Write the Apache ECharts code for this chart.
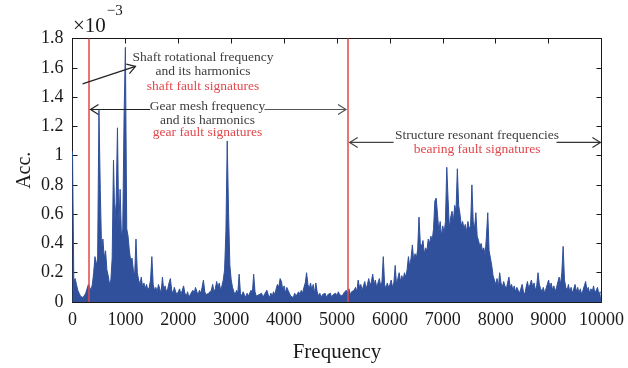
<!DOCTYPE html>
<html>
<head>
<meta charset="utf-8">
<script src="https://cdn.jsdelivr.net/npm/echarts@6/dist/echarts.min.js"></script>
<style>
  html, body { margin: 0; padding: 0; background: #fff; }
  #chart { width: 628px; height: 368px; }
</style>
</head>
<body>
<div id="chart"></div>
<script>
// Acceleration spectrum (x 1e-3), sampled every 25 Hz from 0 to 10000 Hz
const freqStep = 25;
const acc0to1k = [1.03,0.14,0.16,0.12,0.08,0.06,0.04,0.05,0.03,0.04,0.06,0.09,0.12,0.10,0.08,0.12,0.20,0.31,0.25,0.30,
  1.31,0.77,0.35,0.43,0.30,0.35,0.22,0.18,0.12,0.15,0.30,0.97,0.55,0.68,1.19,0.50,0.77,0.45,0.50,1.27];
const acc1kto2k = [1.74,0.50,0.45,0.35,0.28,0.30,0.22,0.18,0.43,0.20,0.15,0.12,0.17,0.10,0.13,0.09,0.12,0.08,0.10,0.15,
  0.31,0.12,0.08,0.10,0.07,0.12,0.09,0.06,0.17,0.08,0.11,0.07,0.09,0.13,0.16,0.08,0.06,0.10,0.07,0.05];
const acc2kto3k = [0.06,0.09,0.05,0.08,0.11,0.06,0.04,0.07,0.03,0.05,0.04,0.08,0.06,0.10,0.07,0.05,0.08,0.06,0.10,0.15,
  0.07,0.05,0.04,0.06,0.05,0.08,0.12,0.07,0.09,0.14,0.10,0.13,0.08,0.11,0.15,0.22,0.48,1.10,0.61,0.25];
const acc3kto4k = [0.15,0.10,0.07,0.05,0.08,0.06,0.19,0.06,0.04,0.07,0.05,0.03,0.06,0.04,0.05,0.08,0.06,0.19,0.07,0.04,
  0.03,0.05,0.04,0.06,0.03,0.05,0.04,0.08,0.05,0.03,0.06,0.04,0.07,0.05,0.09,0.12,0.10,0.16,0.14,0.08];
const acc4kto5k = [0.11,0.06,0.10,0.08,0.06,0.04,0.05,0.03,0.06,0.04,0.05,0.07,0.05,0.08,0.06,0.10,0.13,0.20,0.12,0.09,
  0.13,0.08,0.12,0.06,0.13,0.07,0.04,0.06,0.03,0.05,0.04,0.06,0.03,0.05,0.04,0.06,0.03,0.05,0.04,0.06];
const acc5kto6k = [0.04,0.07,0.05,0.06,0.04,0.06,0.05,0.08,0.06,0.09,0.05,0.07,0.06,0.08,0.10,0.07,0.15,0.10,0.12,0.08,
  0.11,0.14,0.09,0.12,0.16,0.11,0.14,0.19,0.12,0.15,0.10,0.13,0.16,0.11,0.14,0.31,0.12,0.09,0.13,0.10];
const acc6kto7k = [0.12,0.15,0.10,0.13,0.25,0.12,0.16,0.20,0.14,0.18,0.15,0.20,0.17,0.22,0.31,0.24,0.30,0.39,0.28,0.33,
  0.30,0.36,0.58,0.40,0.38,0.42,0.33,0.37,0.35,0.43,0.40,0.45,0.42,0.50,0.69,0.71,0.60,0.48,0.55,0.45];
const acc7kto8k = [0.52,0.47,0.55,0.92,0.70,0.50,0.58,0.62,0.55,0.66,0.62,0.91,0.66,0.60,0.52,0.55,0.50,0.53,0.48,0.55,
  0.50,0.52,0.80,0.55,0.50,0.61,0.45,0.42,0.38,0.40,0.35,0.37,0.32,0.45,0.61,0.35,0.30,0.25,0.18,0.15];
const acc8kto9k = [0.12,0.16,0.10,0.20,0.13,0.10,0.14,0.11,0.09,0.13,0.17,0.10,0.12,0.08,0.11,0.07,0.10,0.08,0.06,0.09,
  0.12,0.07,0.05,0.10,0.14,0.09,0.12,0.15,0.10,0.13,0.08,0.11,0.20,0.12,0.09,0.07,0.10,0.06,0.09,0.12];
const acc9kto10k = [0.15,0.10,0.13,0.08,0.11,0.07,0.10,0.09,0.17,0.12,0.20,0.38,0.15,0.10,0.08,0.12,0.07,0.10,0.06,0.09,
  0.12,0.07,0.10,0.06,0.09,0.05,0.08,0.11,0.14,0.08,0.10,0.06,0.09,0.07,0.11,0.06,0.08,0.10,0.05,0.07,0.06];

// Band boundaries (Hz)
const bandEdges = [300, 5200];

// Axis ticks
const xTicks = { min: 0, max: 10000, step: 1000 };
const yTicks = { min: 0, max: 1.8, step: 0.2 };

const accValues = [].concat(acc0to1k, acc1kto2k, acc2kto3k, acc3kto4k, acc4kto5k,
  acc5kto6k, acc6kto7k, acc7kto8k, acc8kto9k, acc9kto10k);
const spectrum = accValues.map((v, i) => [i * freqStep, v]);

const BLUE = '#30509b';
const RED = '#e2474c';
const TEXT = '#3d3d3d';
const SERIF = '"Liberation Serif", "DejaVu Serif", serif';

const chart = echarts.init(document.getElementById('chart'), null, { renderer: 'canvas' });

const axisLine = { show: true, onZero: false, lineStyle: { color: '#1a1a1a', width: 1 } };
const tickIn = { show: true, inside: true, length: 5, lineStyle: { color: '#1a1a1a' } };

const option = {
  animation: false,
  backgroundColor: '#fff',
  grid: { left: 72.5, right: 26.5, top: 38.5, bottom: 63.5 },
  xAxis: [{
    type: 'value', min: xTicks.min, max: xTicks.max, interval: xTicks.step,
    position: 'bottom', axisLine, axisTick: tickIn, splitLine: { show: false },
    axisLabel: { fontFamily: SERIF, fontSize: 18, color: '#1a1a1a', margin: 9, formatter: v => String(v) },
    name: 'Frequency', nameLocation: 'middle', nameGap: 40, nameMoveOverlap: false,
    nameTextStyle: { fontFamily: SERIF, fontSize: 21, color: '#1a1a1a' }
  }, {
    type: 'value', min: xTicks.min, max: xTicks.max, interval: xTicks.step,
    position: 'top', axisLine, axisTick: tickIn, axisLabel: { show: false }, splitLine: { show: false }
  }],
  yAxis: [{
    type: 'value', min: yTicks.min, max: yTicks.max, interval: yTicks.step,
    position: 'left', axisLine, axisTick: tickIn, splitLine: { show: false },
    axisLabel: { fontFamily: SERIF, fontSize: 18, color: '#1a1a1a', margin: 9 },
    name: 'Acc.', nameLocation: 'middle', nameGap: 38, nameRotate: 90, nameMoveOverlap: false,
    nameTextStyle: { fontFamily: SERIF, fontSize: 20, color: '#1a1a1a' }
  }, {
    type: 'value', min: yTicks.min, max: yTicks.max, interval: yTicks.step,
    position: 'right', axisLine, axisTick: tickIn, axisLabel: { show: false }, splitLine: { show: false }
  }],
  series: [{
    type: 'line',
    data: spectrum,
    showSymbol: false,
    sampling: 'none',
    lineStyle: { color: BLUE, width: 1 },
    areaStyle: { color: BLUE, opacity: 1 },
    z: 2,
    markLine: {
      silent: true, symbol: 'none', label: { show: false },
      lineStyle: { color: RED, width: 1.5, type: 'solid' },
      data: bandEdges.map(f => ({ xAxis: f }))
    }
  }]
};
chart.setOption(option);

// Annotation geometry in data units: [frequency, acceleration]
const arrows = [
  { from: [190, 1.49], to: [1190, 1.61], color: '#222' },
  { from: [1470, 1.315], to: [340, 1.315], color: '#222' },
  { from: [3630, 1.315], to: [5170, 1.315], color: '#555' },
  { from: [6070, 1.09], to: [5240, 1.09], color: '#444' },
  { from: [9150, 1.09], to: [9980, 1.09], color: '#333' }
];
const notes = [
  { at: [2467, 1.670], text: 'Shaft rotational frequency', color: TEXT },
  { at: [2467, 1.575], text: 'and its harmonics', color: TEXT },
  { at: [2467, 1.470], text: 'shaft fault signatures', color: RED },
  { at: [2552, 1.333], text: 'Gear mesh frequency', color: TEXT },
  { at: [2552, 1.242], text: 'and its harmonics', color: TEXT },
  { at: [2552, 1.158], text: 'gear fault signatures', color: RED },
  { at: [7647, 1.140], text: 'Structure resonant frequencies', color: TEXT },
  { at: [7647, 1.045], text: 'bearing fault signatures', color: RED }
];

const toPx = p => chart.convertToPixel({ xAxisIndex: 0, yAxisIndex: 0 }, p);
const graphics = [];
arrows.forEach(a => {
  const p0 = toPx(a.from), p1 = toPx(a.to);
  const dx = p1[0] - p0[0], dy = p1[1] - p0[1];
  const len = Math.hypot(dx, dy);
  const ux = dx / len, uy = dy / len, nx = -uy, ny = ux;
  const hl = 8, hw = 5;
  graphics.push({
    type: 'line', silent: true, z: 10,
    shape: { x1: p0[0], y1: p0[1], x2: p1[0], y2: p1[1] },
    style: { stroke: a.color, lineWidth: 1.2 }
  });
  graphics.push({
    type: 'polyline', silent: true, z: 10,
    shape: { points: [
      [p1[0] - hl * ux + hw * nx, p1[1] - hl * uy + hw * ny],
      [p1[0], p1[1]],
      [p1[0] - hl * ux - hw * nx, p1[1] - hl * uy - hw * ny]
    ] },
    style: { stroke: a.color, lineWidth: 1.2, fill: null }
  });
});
notes.forEach(n => {
  const p = toPx(n.at);
  graphics.push({
    type: 'text', silent: true, z: 11, x: p[0], y: p[1],
    style: { text: n.text, fill: n.color, font: '13.5px ' + SERIF, align: 'center', verticalAlign: 'middle' }
  });
});
// Exponent of the y scale
graphics.push({
  type: 'text', silent: true, z: 11, left: 73, top: 4,
  style: {
    text: '{m|×10}{e|−3}', fill: '#1a1a1a',
    rich: {
      m: { fontFamily: SERIF, fontSize: 21, color: '#1a1a1a', verticalAlign: 'bottom', padding: [12, 0, 0, 0] },
      e: { fontFamily: SERIF, fontSize: 15, color: '#1a1a1a', verticalAlign: 'top', padding: [0, 0, 10, 1] }
    }
  }
});
chart.setOption({ graphic: graphics });
</script>
</body>
</html>
